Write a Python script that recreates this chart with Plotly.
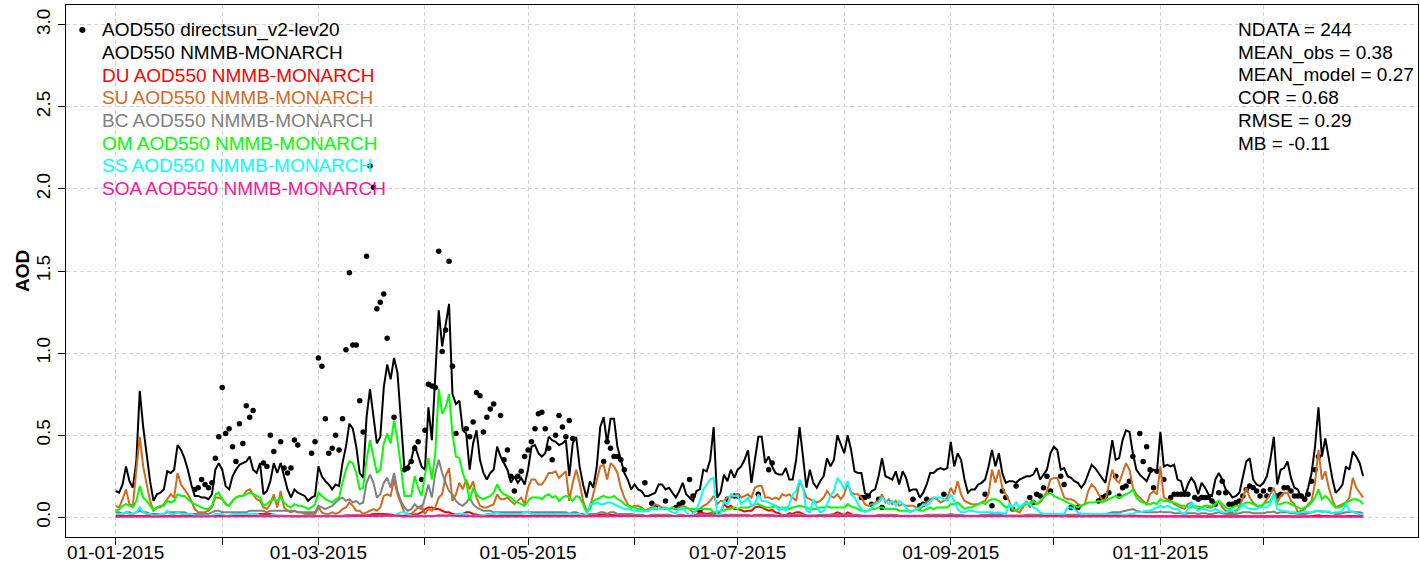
import pandas as pd
import plotly.graph_objects as go

# Daily NMMB-MONARCH AOD at 550 nm from 2015-01-01: total and per-species
total = [
    0.16, 0.15, 0.20, 0.31, 0.22, 0.18, 0.34, 0.77, 0.55, 0.38,
    0.22, 0.10, 0.14, 0.15, 0.17, 0.28, 0.27, 0.29, 0.44, 0.41,
    0.36, 0.29, 0.20, 0.13, 0.13, 0.12, 0.12, 0.11, 0.14, 0.29,
    0.33, 0.29, 0.19, 0.17, 0.25, 0.29, 0.32, 0.33, 0.34, 0.37,
    0.29, 0.27, 0.33, 0.14, 0.16, 0.22, 0.33, 0.27, 0.33, 0.25,
    0.17, 0.12, 0.17, 0.15, 0.14, 0.13, 0.10, 0.12, 0.13, 0.31,
    0.25, 0.22, 0.20, 0.17, 0.20, 0.19, 0.33, 0.43, 0.57, 0.54,
    0.43, 0.27, 0.24, 0.61, 0.78, 0.63, 0.45, 0.49, 0.79, 0.93,
    0.84, 0.97, 0.88, 0.59, 0.30, 0.31, 0.35, 0.44, 0.37, 0.31,
    0.29, 0.67, 0.47, 0.84, 1.26, 1.04, 1.16, 1.30, 0.75, 0.69,
    0.71, 0.53, 0.51, 0.29, 0.45, 0.53, 0.35, 0.27, 0.23, 0.27,
    0.29, 0.43, 0.37, 0.33, 0.29, 0.21, 0.25, 0.21, 0.24, 0.20,
    0.29, 0.43, 0.44, 0.39, 0.37, 0.39, 0.49, 0.47, 0.46, 0.44,
    0.45, 0.47, 0.25, 0.45, 0.49, 0.31, 0.20, 0.12, 0.22, 0.18,
    0.31, 0.55, 0.61, 0.45, 0.60, 0.60, 0.43, 0.35, 0.27, 0.23,
    0.17, 0.20, 0.17, 0.16, 0.13, 0.13, 0.14, 0.15, 0.20, 0.20,
    0.17, 0.18, 0.15, 0.12, 0.16, 0.21, 0.14, 0.12, 0.10, 0.16,
    0.17, 0.29, 0.28, 0.35, 0.55, 0.12, 0.15, 0.26, 0.22, 0.29,
    0.24, 0.29, 0.31, 0.35, 0.41, 0.21, 0.35, 0.49, 0.49, 0.33,
    0.37, 0.31, 0.27, 0.26, 0.26, 0.30, 0.23, 0.23, 0.35, 0.55,
    0.37, 0.18, 0.29, 0.21, 0.18, 0.22, 0.25, 0.36, 0.31, 0.35,
    0.50, 0.44, 0.39, 0.50, 0.41, 0.28, 0.27, 0.27, 0.15, 0.13,
    0.16, 0.17, 0.25, 0.36, 0.25, 0.24, 0.23, 0.28, 0.20, 0.28,
    0.24, 0.16, 0.17, 0.17, 0.12, 0.15, 0.20, 0.27, 0.27, 0.29,
    0.30, 0.29, 0.30, 0.46, 0.31, 0.39, 0.35, 0.23, 0.15, 0.17,
    0.17, 0.20, 0.21, 0.23, 0.31, 0.41, 0.31, 0.39, 0.27, 0.21,
    0.22, 0.22, 0.21, 0.23, 0.24, 0.25, 0.25, 0.26, 0.30, 0.23,
    0.26, 0.29, 0.39, 0.43, 0.41, 0.29, 0.30, 0.25, 0.24, 0.22,
    0.21, 0.18, 0.21, 0.27, 0.32, 0.30, 0.27, 0.24, 0.21, 0.33,
    0.47, 0.35, 0.36, 0.47, 0.53, 0.52, 0.39, 0.29, 0.26, 0.24,
    0.22, 0.27, 0.29, 0.28, 0.52, 0.31, 0.32, 0.31, 0.32, 0.23,
    0.22, 0.14, 0.20, 0.24, 0.21, 0.14, 0.21, 0.18, 0.14, 0.13,
    0.23, 0.27, 0.23, 0.17, 0.15, 0.12, 0.13, 0.15, 0.25, 0.34,
    0.36, 0.23, 0.20, 0.19, 0.21, 0.25, 0.35, 0.49, 0.20, 0.29,
    0.30, 0.34, 0.24, 0.18, 0.17, 0.12, 0.11, 0.18, 0.27, 0.43,
    0.67, 0.37, 0.48, 0.35, 0.24, 0.15, 0.17, 0.20, 0.31, 0.29,
    0.40, 0.37, 0.33, 0.25,
]

du = [
    0.008, 0.008, 0.010, 0.010, 0.008, 0.008, 0.010, 0.012, 0.010, 0.008,
    0.008, 0.006, 0.006, 0.008, 0.008, 0.010, 0.010, 0.008, 0.010, 0.010,
    0.008, 0.008, 0.006, 0.006, 0.006, 0.006, 0.006, 0.006, 0.008, 0.010,
    0.010, 0.010, 0.008, 0.008, 0.008, 0.010, 0.010, 0.010, 0.012, 0.012,
    0.012, 0.015, 0.020, 0.020, 0.022, 0.020, 0.015, 0.010, 0.010, 0.008,
    0.008, 0.006, 0.006, 0.006, 0.006, 0.006, 0.006, 0.006, 0.006, 0.008,
    0.008, 0.008, 0.008, 0.008, 0.010, 0.010, 0.010, 0.012, 0.012, 0.010,
    0.010, 0.010, 0.010, 0.012, 0.015, 0.020, 0.020, 0.022, 0.020, 0.018,
    0.015, 0.012, 0.010, 0.010, 0.010, 0.012, 0.012, 0.015, 0.020, 0.030,
    0.050, 0.060, 0.060, 0.050, 0.050, 0.040, 0.030, 0.030, 0.020, 0.020,
    0.020, 0.020, 0.030, 0.030, 0.020, 0.015, 0.012, 0.010, 0.010, 0.010,
    0.010, 0.010, 0.010, 0.008, 0.008, 0.008, 0.008, 0.008, 0.008, 0.010,
    0.010, 0.010, 0.010, 0.012, 0.012, 0.012, 0.010, 0.010, 0.010, 0.010,
    0.010, 0.012, 0.012, 0.010, 0.010, 0.008, 0.008, 0.006, 0.008, 0.010,
    0.012, 0.015, 0.020, 0.020, 0.015, 0.012, 0.010, 0.010, 0.008, 0.008,
    0.008, 0.008, 0.008, 0.008, 0.006, 0.006, 0.008, 0.008, 0.008, 0.008,
    0.008, 0.008, 0.010, 0.010, 0.010, 0.010, 0.008, 0.008, 0.010, 0.015,
    0.030, 0.025, 0.020, 0.025, 0.025, 0.020, 0.030, 0.080, 0.060, 0.070,
    0.050, 0.050, 0.040, 0.035, 0.040, 0.040, 0.060, 0.065, 0.060, 0.050,
    0.040, 0.045, 0.030, 0.025, 0.010, 0.010, 0.025, 0.020, 0.030, 0.030,
    0.020, 0.010, 0.010, 0.010, 0.010, 0.010, 0.010, 0.012, 0.015, 0.020,
    0.030, 0.020, 0.015, 0.030, 0.020, 0.010, 0.010, 0.008, 0.008, 0.008,
    0.008, 0.008, 0.010, 0.010, 0.008, 0.008, 0.008, 0.008, 0.008, 0.008,
    0.008, 0.006, 0.006, 0.006, 0.006, 0.008, 0.008, 0.010, 0.010, 0.010,
    0.010, 0.010, 0.012, 0.015, 0.012, 0.010, 0.008, 0.008, 0.008, 0.008,
    0.008, 0.006, 0.006, 0.008, 0.008, 0.010, 0.010, 0.010, 0.008, 0.006,
    0.006, 0.006, 0.006, 0.006, 0.008, 0.008, 0.008, 0.008, 0.008, 0.008,
    0.010, 0.010, 0.012, 0.012, 0.010, 0.008, 0.008, 0.008, 0.006, 0.006,
    0.006, 0.006, 0.006, 0.008, 0.008, 0.008, 0.006, 0.006, 0.006, 0.008,
    0.010, 0.010, 0.010, 0.010, 0.012, 0.012, 0.010, 0.008, 0.008, 0.006,
    0.006, 0.006, 0.008, 0.008, 0.010, 0.008, 0.008, 0.006, 0.006, 0.006,
    0.006, 0.006, 0.006, 0.008, 0.008, 0.006, 0.006, 0.006, 0.006, 0.006,
    0.006, 0.008, 0.008, 0.006, 0.006, 0.006, 0.006, 0.006, 0.008, 0.008,
    0.008, 0.006, 0.006, 0.006, 0.006, 0.008, 0.008, 0.010, 0.006, 0.006,
    0.006, 0.008, 0.006, 0.006, 0.005, 0.005, 0.005, 0.006, 0.008, 0.010,
    0.012, 0.008, 0.010, 0.008, 0.006, 0.005, 0.005, 0.006, 0.006, 0.008,
    0.008, 0.008, 0.006, 0.006,
]

su = [
    0.07, 0.06, 0.11, 0.17, 0.08, 0.07, 0.29, 0.49, 0.31, 0.21,
    0.10, 0.04, 0.06, 0.06, 0.08, 0.11, 0.14, 0.12, 0.27, 0.20,
    0.17, 0.14, 0.10, 0.05, 0.03, 0.03, 0.03, 0.04, 0.06, 0.12,
    0.12, 0.11, 0.08, 0.07, 0.10, 0.12, 0.13, 0.13, 0.16, 0.17,
    0.14, 0.11, 0.10, 0.06, 0.05, 0.08, 0.14, 0.06, 0.16, 0.06,
    0.04, 0.03, 0.04, 0.03, 0.03, 0.02, 0.02, 0.02, 0.02, 0.06,
    0.03, 0.02, 0.02, 0.03, 0.02, 0.03, 0.05, 0.06, 0.09, 0.07,
    0.04, 0.04, 0.02, 0.03, 0.04, 0.05, 0.04, 0.06, 0.13, 0.14,
    0.13, 0.23, 0.14, 0.08, 0.03, 0.02, 0.02, 0.04, 0.06, 0.07,
    0.02, 0.05, 0.04, 0.06, 0.12, 0.14, 0.25, 0.30, 0.10, 0.14,
    0.21, 0.17, 0.23, 0.17, 0.22, 0.12, 0.07, 0.06, 0.06, 0.07,
    0.08, 0.14, 0.11, 0.11, 0.12, 0.10, 0.08, 0.10, 0.12, 0.08,
    0.18, 0.23, 0.23, 0.20, 0.20, 0.23, 0.27, 0.27, 0.28, 0.24,
    0.26, 0.28, 0.10, 0.21, 0.29, 0.21, 0.10, 0.04, 0.06, 0.14,
    0.23, 0.31, 0.32, 0.23, 0.33, 0.31, 0.27, 0.18, 0.12, 0.08,
    0.06, 0.07, 0.07, 0.06, 0.04, 0.05, 0.06, 0.08, 0.07, 0.06,
    0.06, 0.05, 0.06, 0.05, 0.06, 0.07, 0.06, 0.05, 0.03, 0.04,
    0.05, 0.07, 0.08, 0.10, 0.13, 0.08, 0.10, 0.10, 0.12, 0.12,
    0.13, 0.14, 0.12, 0.13, 0.14, 0.12, 0.18, 0.19, 0.19, 0.12,
    0.12, 0.11, 0.12, 0.11, 0.14, 0.13, 0.14, 0.12, 0.10, 0.22,
    0.18, 0.12, 0.11, 0.10, 0.09, 0.10, 0.12, 0.16, 0.13, 0.12,
    0.14, 0.11, 0.14, 0.21, 0.15, 0.14, 0.14, 0.12, 0.08, 0.07,
    0.08, 0.09, 0.10, 0.14, 0.09, 0.11, 0.08, 0.10, 0.07, 0.08,
    0.07, 0.07, 0.07, 0.06, 0.05, 0.07, 0.09, 0.11, 0.12, 0.11,
    0.09, 0.10, 0.12, 0.18, 0.14, 0.22, 0.14, 0.10, 0.09, 0.08,
    0.08, 0.08, 0.09, 0.10, 0.14, 0.29, 0.21, 0.29, 0.18, 0.14,
    0.10, 0.04, 0.04, 0.03, 0.06, 0.10, 0.06, 0.10, 0.08, 0.09,
    0.12, 0.16, 0.23, 0.24, 0.24, 0.18, 0.12, 0.11, 0.11, 0.10,
    0.08, 0.07, 0.08, 0.16, 0.20, 0.18, 0.14, 0.11, 0.10, 0.20,
    0.29, 0.23, 0.21, 0.27, 0.33, 0.29, 0.18, 0.14, 0.12, 0.10,
    0.08, 0.14, 0.16, 0.14, 0.31, 0.12, 0.11, 0.10, 0.08, 0.07,
    0.06, 0.05, 0.08, 0.09, 0.06, 0.05, 0.06, 0.07, 0.06, 0.06,
    0.08, 0.10, 0.06, 0.04, 0.03, 0.03, 0.04, 0.06, 0.12, 0.18,
    0.12, 0.09, 0.07, 0.06, 0.08, 0.11, 0.14, 0.18, 0.09, 0.13,
    0.15, 0.15, 0.10, 0.08, 0.03, 0.04, 0.05, 0.08, 0.10, 0.21,
    0.41, 0.23, 0.28, 0.18, 0.11, 0.06, 0.07, 0.08, 0.09, 0.12,
    0.24, 0.18, 0.15, 0.12,
]

bc = [
    0.03, 0.03, 0.02, 0.03, 0.03, 0.02, 0.03, 0.04, 0.03, 0.03,
    0.02, 0.02, 0.02, 0.02, 0.02, 0.03, 0.03, 0.03, 0.03, 0.03,
    0.03, 0.02, 0.02, 0.02, 0.02, 0.02, 0.02, 0.02, 0.03, 0.04,
    0.04, 0.03, 0.03, 0.03, 0.03, 0.03, 0.03, 0.03, 0.03, 0.04,
    0.04, 0.04, 0.04, 0.04, 0.03, 0.04, 0.04, 0.04, 0.04, 0.04,
    0.04, 0.04, 0.04, 0.03, 0.03, 0.03, 0.03, 0.03, 0.03, 0.07,
    0.06, 0.05, 0.06, 0.07, 0.09, 0.11, 0.12, 0.10, 0.11, 0.09,
    0.10, 0.08, 0.09, 0.21, 0.26, 0.21, 0.12, 0.14, 0.21, 0.24,
    0.18, 0.27, 0.16, 0.10, 0.06, 0.04, 0.05, 0.08, 0.06, 0.05,
    0.12, 0.20, 0.12, 0.27, 0.35, 0.27, 0.21, 0.16, 0.14, 0.10,
    0.08, 0.07, 0.09, 0.12, 0.08, 0.06, 0.05, 0.04, 0.04, 0.04,
    0.03, 0.03, 0.03, 0.03, 0.03, 0.03, 0.03, 0.03, 0.03, 0.03,
    0.03, 0.03, 0.03, 0.03, 0.03, 0.03, 0.03, 0.03, 0.03, 0.03,
    0.03, 0.03, 0.02, 0.03, 0.03, 0.02, 0.02, 0.01, 0.02, 0.02,
    0.02, 0.03, 0.03, 0.02, 0.03, 0.03, 0.02, 0.02, 0.02, 0.02,
    0.02, 0.015, 0.015, 0.015, 0.01, 0.01, 0.015, 0.015, 0.015, 0.015,
    0.015, 0.015, 0.01, 0.01, 0.015, 0.015, 0.01, 0.01, 0.01, 0.015,
    0.015, 0.015, 0.015, 0.015, 0.02, 0.01, 0.01, 0.015, 0.015, 0.015,
    0.015, 0.015, 0.015, 0.015, 0.015, 0.01, 0.015, 0.015, 0.015, 0.015,
    0.015, 0.015, 0.01, 0.01, 0.015, 0.015, 0.015, 0.015, 0.015, 0.02,
    0.015, 0.01, 0.01, 0.01, 0.01, 0.015, 0.015, 0.015, 0.015, 0.015,
    0.015, 0.015, 0.015, 0.015, 0.015, 0.015, 0.015, 0.01, 0.01, 0.01,
    0.01, 0.01, 0.015, 0.015, 0.015, 0.015, 0.015, 0.015, 0.01, 0.01,
    0.01, 0.01, 0.01, 0.01, 0.01, 0.01, 0.015, 0.015, 0.015, 0.015,
    0.015, 0.015, 0.015, 0.02, 0.015, 0.015, 0.015, 0.01, 0.01, 0.01,
    0.01, 0.01, 0.015, 0.015, 0.015, 0.02, 0.015, 0.02, 0.015, 0.01,
    0.01, 0.01, 0.01, 0.01, 0.01, 0.015, 0.015, 0.015, 0.015, 0.015,
    0.02, 0.02, 0.02, 0.02, 0.02, 0.015, 0.015, 0.015, 0.015, 0.015,
    0.015, 0.015, 0.015, 0.02, 0.02, 0.02, 0.02, 0.02, 0.02, 0.025,
    0.03, 0.03, 0.03, 0.035, 0.04, 0.045, 0.05, 0.04, 0.035, 0.03,
    0.03, 0.03, 0.03, 0.03, 0.035, 0.03, 0.03, 0.03, 0.025, 0.025,
    0.025, 0.02, 0.025, 0.025, 0.025, 0.02, 0.025, 0.025, 0.02, 0.02,
    0.025, 0.03, 0.025, 0.02, 0.02, 0.02, 0.02, 0.025, 0.03, 0.03,
    0.03, 0.025, 0.025, 0.025, 0.025, 0.03, 0.03, 0.035, 0.025, 0.03,
    0.03, 0.03, 0.025, 0.025, 0.02, 0.02, 0.02, 0.025, 0.03, 0.035,
    0.04, 0.035, 0.035, 0.03, 0.025, 0.02, 0.02, 0.025, 0.03, 0.03,
    0.035, 0.03, 0.03, 0.025,
]

om = [
    0.04, 0.05, 0.07, 0.08, 0.07, 0.06, 0.10, 0.19, 0.12, 0.10,
    0.07, 0.04, 0.06, 0.07, 0.07, 0.10, 0.09, 0.10, 0.14, 0.13,
    0.13, 0.11, 0.09, 0.08, 0.07, 0.06, 0.05, 0.05, 0.07, 0.14,
    0.15, 0.11, 0.08, 0.07, 0.10, 0.12, 0.13, 0.13, 0.14, 0.15,
    0.14, 0.13, 0.12, 0.07, 0.08, 0.10, 0.11, 0.10, 0.12, 0.09,
    0.07, 0.06, 0.08, 0.07, 0.07, 0.06, 0.05, 0.06, 0.08, 0.15,
    0.13, 0.11, 0.10, 0.09, 0.11, 0.12, 0.21, 0.29, 0.34, 0.33,
    0.27, 0.17, 0.18, 0.35, 0.47, 0.37, 0.27, 0.29, 0.45, 0.51,
    0.45, 0.59, 0.47, 0.31, 0.13, 0.13, 0.13, 0.25, 0.18, 0.13,
    0.26, 0.36, 0.23, 0.39, 0.78, 0.63, 0.67, 0.75, 0.51, 0.37,
    0.36, 0.27, 0.21, 0.10, 0.18, 0.14, 0.12, 0.11, 0.12, 0.13,
    0.15, 0.20, 0.16, 0.14, 0.13, 0.12, 0.10, 0.09, 0.08, 0.07,
    0.10, 0.12, 0.12, 0.12, 0.11, 0.13, 0.14, 0.12, 0.13, 0.10,
    0.12, 0.13, 0.12, 0.10, 0.13, 0.12, 0.08, 0.03, 0.05, 0.10,
    0.11, 0.12, 0.13, 0.12, 0.12, 0.13, 0.11, 0.10, 0.08, 0.07,
    0.06, 0.06, 0.05, 0.05, 0.04, 0.04, 0.05, 0.05, 0.05, 0.05,
    0.05, 0.05, 0.06, 0.05, 0.05, 0.05, 0.06, 0.05, 0.05, 0.05,
    0.05, 0.05, 0.05, 0.05, 0.03, 0.03, 0.04, 0.04, 0.05, 0.05,
    0.06, 0.05, 0.06, 0.06, 0.06, 0.07, 0.08, 0.08, 0.07, 0.06,
    0.06, 0.06, 0.07, 0.06, 0.05, 0.06, 0.05, 0.06, 0.065, 0.07,
    0.065, 0.06, 0.05, 0.05, 0.05, 0.06, 0.06, 0.065, 0.06, 0.06,
    0.06, 0.06, 0.06, 0.08, 0.065, 0.06, 0.05, 0.04, 0.04, 0.04,
    0.05, 0.05, 0.06, 0.06, 0.05, 0.05, 0.05, 0.05, 0.04, 0.04,
    0.04, 0.04, 0.04, 0.05, 0.04, 0.04, 0.05, 0.06, 0.05, 0.06,
    0.06, 0.06, 0.06, 0.08, 0.08, 0.09, 0.07, 0.05, 0.06, 0.06,
    0.07, 0.08, 0.09, 0.08, 0.10, 0.11, 0.11, 0.10, 0.08, 0.06,
    0.07, 0.05, 0.04, 0.06, 0.07, 0.08, 0.09, 0.10, 0.08, 0.10,
    0.12, 0.14, 0.15, 0.13, 0.12, 0.11, 0.10, 0.09, 0.08, 0.07,
    0.06, 0.07, 0.08, 0.09, 0.09, 0.09, 0.10, 0.09, 0.10, 0.11,
    0.12, 0.13, 0.12, 0.13, 0.14, 0.15, 0.17, 0.12, 0.10, 0.09,
    0.08, 0.08, 0.09, 0.08, 0.11, 0.10, 0.10, 0.09, 0.09, 0.08,
    0.07, 0.07, 0.06, 0.06, 0.07, 0.065, 0.06, 0.07, 0.07, 0.065,
    0.08, 0.10, 0.08, 0.06, 0.05, 0.06, 0.07, 0.07, 0.08, 0.09,
    0.09, 0.08, 0.07, 0.07, 0.08, 0.09, 0.10, 0.14, 0.08, 0.08,
    0.09, 0.09, 0.08, 0.07, 0.06, 0.05, 0.06, 0.07, 0.09, 0.12,
    0.17, 0.11, 0.13, 0.11, 0.08, 0.06, 0.06, 0.07, 0.09, 0.10,
    0.11, 0.11, 0.10, 0.08,
]

ss = [
    0.02, 0.02, 0.02, 0.03, 0.02, 0.02, 0.03, 0.06, 0.03, 0.02,
    0.02, 0.01, 0.01, 0.02, 0.02, 0.04, 0.02, 0.02, 0.03, 0.02,
    0.02, 0.02, 0.02, 0.01, 0.01, 0.01, 0.01, 0.01, 0.01, 0.02,
    0.02, 0.02, 0.01, 0.01, 0.02, 0.02, 0.02, 0.02, 0.02, 0.02,
    0.02, 0.02, 0.01, 0.01, 0.01, 0.01, 0.02, 0.01, 0.01, 0.01,
    0.01, 0.01, 0.01, 0.01, 0.01, 0.01, 0.01, 0.01, 0.01, 0.01,
    0.01, 0.01, 0.01, 0.01, 0.01, 0.01, 0.01, 0.01, 0.01, 0.01,
    0.01, 0.01, 0.01, 0.01, 0.01, 0.01, 0.01, 0.01, 0.01, 0.01,
    0.01, 0.01, 0.02, 0.03, 0.03, 0.02, 0.01, 0.01, 0.01, 0.01,
    0.01, 0.01, 0.01, 0.01, 0.01, 0.01, 0.01, 0.01, 0.01, 0.02,
    0.02, 0.02, 0.02, 0.01, 0.01, 0.01, 0.01, 0.01, 0.02, 0.02,
    0.02, 0.03, 0.02, 0.02, 0.02, 0.02, 0.02, 0.02, 0.02, 0.03,
    0.03, 0.02, 0.02, 0.02, 0.02, 0.02, 0.02, 0.02, 0.02, 0.02,
    0.02, 0.02, 0.02, 0.02, 0.02, 0.02, 0.01, 0.01, 0.08, 0.08,
    0.09, 0.08, 0.08, 0.09, 0.09, 0.08, 0.07, 0.06, 0.05, 0.05,
    0.045, 0.04, 0.04, 0.035, 0.035, 0.04, 0.05, 0.06, 0.05, 0.05,
    0.06, 0.04, 0.03, 0.025, 0.05, 0.06, 0.03, 0.01, 0.02, 0.05,
    0.10, 0.17, 0.20, 0.23, 0.24, 0.01, 0.02, 0.10, 0.08, 0.14,
    0.13, 0.13, 0.08, 0.10, 0.12, 0.07, 0.08, 0.14, 0.10, 0.10,
    0.09, 0.08, 0.07, 0.04, 0.06, 0.04, 0.08, 0.14, 0.16, 0.23,
    0.18, 0.04, 0.03, 0.11, 0.06, 0.03, 0.04, 0.08, 0.13, 0.16,
    0.24, 0.21, 0.17, 0.22, 0.14, 0.12, 0.08, 0.05, 0.03, 0.04,
    0.06, 0.08, 0.09, 0.12, 0.10, 0.08, 0.10, 0.07, 0.10, 0.08,
    0.06, 0.03, 0.04, 0.05, 0.06, 0.08, 0.07, 0.09, 0.12, 0.12,
    0.12, 0.11, 0.10, 0.14, 0.10, 0.05, 0.03, 0.03, 0.04, 0.04,
    0.035, 0.03, 0.03, 0.03, 0.03, 0.03, 0.025, 0.03, 0.025, 0.02,
    0.08, 0.06, 0.09, 0.06, 0.08, 0.09, 0.08, 0.06, 0.05, 0.03,
    0.02, 0.02, 0.02, 0.02, 0.02, 0.02, 0.02, 0.06, 0.06, 0.05,
    0.03, 0.02, 0.02, 0.02, 0.02, 0.02, 0.02, 0.02, 0.02, 0.02,
    0.02, 0.02, 0.02, 0.015, 0.015, 0.02, 0.02, 0.03, 0.03, 0.035,
    0.04, 0.04, 0.05, 0.06, 0.07, 0.06, 0.07, 0.06, 0.05, 0.05,
    0.03, 0.02, 0.05, 0.09, 0.06, 0.04, 0.05, 0.05, 0.04, 0.04,
    0.05, 0.04, 0.03, 0.03, 0.04, 0.04, 0.03, 0.05, 0.08, 0.06,
    0.05, 0.05, 0.05, 0.06, 0.06, 0.06, 0.08, 0.15, 0.05, 0.04,
    0.04, 0.035, 0.03, 0.03, 0.025, 0.03, 0.035, 0.03, 0.03, 0.04,
    0.04, 0.03, 0.035, 0.035, 0.025, 0.03, 0.03, 0.04, 0.08, 0.04,
    0.03, 0.025, 0.02, 0.02,
]

soa = [
    0.004, 0.004, 0.005, 0.005, 0.004, 0.004, 0.005, 0.006, 0.005, 0.004,
    0.004, 0.003, 0.003, 0.004, 0.004, 0.005, 0.005, 0.005, 0.006, 0.005,
    0.005, 0.004, 0.004, 0.003, 0.003, 0.003, 0.003, 0.003, 0.004, 0.005,
    0.005, 0.005, 0.004, 0.004, 0.004, 0.005, 0.005, 0.005, 0.005, 0.006,
    0.005, 0.005, 0.005, 0.004, 0.004, 0.004, 0.005, 0.004, 0.005, 0.004,
    0.004, 0.003, 0.004, 0.004, 0.003, 0.003, 0.003, 0.003, 0.003, 0.005,
    0.005, 0.004, 0.004, 0.004, 0.004, 0.005, 0.006, 0.007, 0.008, 0.008,
    0.007, 0.005, 0.005, 0.008, 0.010, 0.008, 0.007, 0.007, 0.009, 0.010,
    0.009, 0.010, 0.009, 0.007, 0.005, 0.005, 0.005, 0.006, 0.005, 0.005,
    0.006, 0.007, 0.006, 0.008, 0.012, 0.010, 0.010, 0.012, 0.009, 0.008,
    0.008, 0.007, 0.006, 0.005, 0.005, 0.005, 0.005, 0.005, 0.005, 0.005,
    0.006, 0.007, 0.006, 0.006, 0.006, 0.005, 0.005, 0.005, 0.005, 0.005,
    0.006, 0.007, 0.007, 0.007, 0.007, 0.008, 0.008, 0.008, 0.008, 0.007,
    0.008, 0.008, 0.007, 0.007, 0.008, 0.007, 0.006, 0.005, 0.006, 0.007,
    0.008, 0.009, 0.009, 0.009, 0.009, 0.009, 0.008, 0.008, 0.007, 0.007,
    0.007, 0.007, 0.006, 0.006, 0.006, 0.006, 0.007, 0.007, 0.007, 0.007,
    0.007, 0.007, 0.007, 0.007, 0.007, 0.007, 0.007, 0.006, 0.006, 0.007,
    0.007, 0.008, 0.008, 0.008, 0.008, 0.006, 0.006, 0.007, 0.007, 0.008,
    0.008, 0.008, 0.008, 0.008, 0.009, 0.008, 0.009, 0.010, 0.009, 0.008,
    0.008, 0.008, 0.008, 0.008, 0.008, 0.008, 0.007, 0.008, 0.008, 0.009,
    0.008, 0.007, 0.007, 0.007, 0.007, 0.007, 0.008, 0.008, 0.008, 0.008,
    0.009, 0.008, 0.008, 0.009, 0.008, 0.008, 0.007, 0.007, 0.006, 0.006,
    0.006, 0.007, 0.007, 0.007, 0.007, 0.007, 0.007, 0.007, 0.006, 0.006,
    0.006, 0.006, 0.006, 0.006, 0.006, 0.006, 0.006, 0.007, 0.007, 0.007,
    0.007, 0.007, 0.007, 0.008, 0.007, 0.007, 0.007, 0.006, 0.006, 0.006,
    0.006, 0.006, 0.006, 0.006, 0.007, 0.007, 0.007, 0.007, 0.006, 0.006,
    0.006, 0.005, 0.005, 0.005, 0.006, 0.006, 0.006, 0.006, 0.006, 0.006,
    0.007, 0.007, 0.007, 0.007, 0.007, 0.006, 0.006, 0.006, 0.006, 0.005,
    0.005, 0.005, 0.005, 0.006, 0.006, 0.006, 0.006, 0.006, 0.006, 0.006,
    0.007, 0.007, 0.007, 0.007, 0.007, 0.007, 0.007, 0.006, 0.006, 0.005,
    0.005, 0.005, 0.005, 0.005, 0.006, 0.005, 0.005, 0.005, 0.005, 0.005,
    0.005, 0.004, 0.004, 0.005, 0.005, 0.004, 0.004, 0.004, 0.004, 0.004,
    0.004, 0.005, 0.005, 0.004, 0.004, 0.004, 0.004, 0.004, 0.005, 0.005,
    0.005, 0.004, 0.004, 0.004, 0.004, 0.005, 0.005, 0.005, 0.004, 0.004,
    0.004, 0.005, 0.004, 0.004, 0.004, 0.003, 0.003, 0.004, 0.004, 0.005,
    0.006, 0.005, 0.005, 0.005, 0.004, 0.004, 0.004, 0.004, 0.004, 0.005,
    0.005, 0.005, 0.004, 0.004,
]

# AERONET direct-sun v2 level 2.0 daily AOD550: day of year and value
obs_doy = [
    24, 25, 26, 27, 28, 29, 30, 31, 32, 33, 34, 35, 36, 37, 38, 39, 40, 41,
    44, 45, 46, 47, 49, 50, 51, 52, 53, 54, 58, 59, 60, 61, 62, 63, 64, 65,
    66, 67, 68, 69, 70, 71, 72, 73, 74, 75, 76, 77, 78, 79, 80, 82, 85, 86,
    87, 88, 89, 90, 91, 92, 93, 94, 95, 96, 97, 98, 99, 100, 103, 104, 105,
    106, 107, 108, 109, 110, 111, 113, 114, 115, 116, 117, 118, 119, 120,
    121, 122, 123, 124, 125, 126, 127, 128, 129, 130, 131, 132, 133, 134,
    143, 144, 145, 146, 147, 148, 149, 155, 157, 158, 161, 164, 165, 166,
    168, 169, 171, 179, 181, 182, 188, 191, 192, 218, 219, 220, 221, 223,
    224, 233, 235, 236, 237, 242, 254, 256, 259, 260, 262, 263, 267, 268,
    269, 270, 271, 272, 273, 276, 277, 279, 281, 287, 288, 289, 290, 292,
    293, 294, 295, 296, 297, 299, 300, 301, 302, 303, 304, 306, 308, 309,
    310, 311, 312, 313, 315, 316, 317, 318, 319, 320, 321, 322, 323, 324,
    325, 326, 327, 328, 329, 330, 331, 332, 333, 334, 335, 336, 337, 339,
    340, 341, 342, 343, 344, 345, 346, 347, 348, 349, 350, 351,
]
obs_aod = [
    0.17, 0.18, 0.23, 0.20, 0.18, 0.21, 0.36, 0.49, 0.79, 0.51, 0.54, 0.43, 0.34, 0.57, 0.45, 0.68, 0.61, 0.65,
    0.33, 0.31, 0.50, 0.40, 0.46, 0.30, 0.27, 0.30, 0.47, 0.44, 0.39, 0.46, 0.97, 0.92, 0.60, 0.39, 0.42, 0.50,
    0.41, 0.60, 1.02, 1.49, 1.05, 1.05, 0.71, 0.52, 1.59, 2.14, 2.01, 1.27, 1.31, 1.36, 1.09, 0.61, 0.29, 0.30,
    0.34, 0.42, 0.46, 0.23, 0.53, 0.81, 0.80, 0.79, 1.62, 1.01, 1.14, 1.56, 0.92, 0.51, 0.54, 0.49, 0.58,
    0.76, 0.74, 0.52, 0.61, 0.66, 0.69, 0.62, 0.35, 0.41, 0.25, 0.16, 0.25, 0.28, 0.37,
    0.41, 0.46, 0.54, 0.63, 0.64, 0.54, 0.42, 0.35, 0.50, 0.62, 0.55, 0.49, 0.59, 0.48,
    0.34, 0.46, 0.42, 0.37, 0.37, 0.35, 0.29, 0.21, 0.085, 0.065, 0.10, 0.06, 0.08, 0.09,
    0.23, 0.13, 0.04, 0.11, 0.13, 0.13, 0.14, 0.29, 0.33, 0.12, 0.12, 0.13, 0.08, 0.11,
    0.06, 0.11, 0.07, 0.08, 0.11, 0.14, 0.14, 0.07, 0.16, 0.12, 0.05, 0.19, 0.12, 0.09,
    0.14, 0.13, 0.18, 0.25, 0.16, 0.25, 0.20, 0.06, 0.06, 0.10, 0.12, 0.13, 0.15, 0.25,
    0.13, 0.18, 0.19, 0.22, 0.37, 0.51, 0.34, 0.43, 0.29, 0.18, 0.28, 0.23, 0.12, 0.14,
    0.14, 0.14, 0.14, 0.14, 0.12, 0.11, 0.12, 0.12, 0.12, 0.10, 0.08, 0.15, 0.22, 0.15,
    0.08, 0.08, 0.09, 0.10, 0.13, 0.17, 0.19, 0.18, 0.16, 0.13, 0.16, 0.13, 0.17, 0.13,
    0.14, 0.18, 0.18, 0.16, 0.13, 0.13, 0.13, 0.11, 0.14, 0.22, 0.29, 0.37,
]

stats_lines = [
    "NDATA = 244",
    "MEAN_obs = 0.38",
    "MEAN_model = 0.27",
    "COR = 0.68",
    "RMSE = 0.29",
    "MB = -0.11",
]

series = [
    ("DU AOD550 NMMB-MONARCH", du, "#FF0000"),
    ("SU AOD550 NMMB-MONARCH", su, "#D2691E"),
    ("BC AOD550 NMMB-MONARCH", bc, "#808080"),
    ("OM AOD550 NMMB-MONARCH", om, "#00FF00"),
    ("SS AOD550 NMMB-MONARCH", ss, "#00FFFF"),
    ("SOA AOD550 NMMB-MONARCH", soa, "#FF1493"),
]

for _, vals, _ in series:
    assert len(vals) == len(total)
assert len(obs_doy) == len(obs_aod)

start = pd.Timestamp("2015-01-01")
dates = pd.date_range(start, periods=len(total), freq="D")
obs_dates = [start + pd.Timedelta(days=d - 1) for d in obs_doy]

FONT = "Liberation Sans, Arial, Helvetica, sans-serif"
W, H = 1420, 562
ML, MR, MT, MB = 66, 2, 5, 25
plot_w = W - ML - MR
plot_h = H - MT - MB

fig = go.Figure()

fig.add_trace(go.Scatter(
    x=obs_dates, y=obs_aod, mode="markers",
    marker=dict(color="black", size=5.5),
    name="AOD550 directsun_v2-lev20",
))
fig.add_trace(go.Scatter(
    x=dates, y=total, mode="lines",
    line=dict(color="black", width=2),
    name="AOD550 NMMB-MONARCH",
))
for name, vals, color in series:
    fig.add_trace(go.Scatter(
        x=dates, y=vals, mode="lines",
        line=dict(color=color, width=2),
        name=name,
    ))

month_starts = pd.date_range("2015-01-01", "2015-12-01", freq="MS")
tick_text = [d.strftime("%d-%m-%Y") if d.month % 2 == 1 else "" for d in month_starts]

fig.update_xaxes(
    type="date",
    range=["2014-12-17 12:53", "2016-01-14 23:11"],
    tickmode="array",
    tickvals=list(month_starts),
    ticktext=tick_text,
    ticks="outside", ticklen=7, tickwidth=1, tickcolor="black",
    ticklabelstandoff=-9,
    showgrid=True, gridcolor="#D3D3D3", gridwidth=1, griddash="4px,3px",
    showline=True, linecolor="black", linewidth=1, mirror=True,
    zeroline=False, automargin=False,
    tickfont=dict(family=FONT, size=19, color="black"),
)

y_ticks = [0.0, 0.5, 1.0, 1.5, 2.0, 2.5, 3.0]
fig.update_yaxes(
    range=[-0.12, 3.12],
    tickmode="array",
    tickvals=y_ticks,
    ticktext=[f"{v:.1f}" for v in y_ticks],
    tickangle=-90,
    ticks="outside", ticklen=7, tickwidth=1, tickcolor="black",
    showgrid=True, gridcolor="#D3D3D3", gridwidth=1, griddash="4px,3px",
    showline=True, linecolor="black", linewidth=1, mirror=True,
    zeroline=False, automargin=False,
    tickfont=dict(family=FONT, size=19, color="black"),
)

annotations = []

# y-axis title
annotations.append(dict(
    text="<b>AOD</b>", textangle=-90,
    xref="paper", yref="paper",
    x=(22 - ML) / plot_w, y=(H - MB - 271) / plot_h,
    xanchor="center", yanchor="middle", showarrow=False,
    font=dict(family=FONT, size=19, color="black"),
))

# legend block (top left)
legend_entries = [("AOD550 directsun_v2-lev20", "black"), ("AOD550 NMMB-MONARCH", "black")]
legend_entries += [(name, color) for name, _, color in series]
line_step = 22.6
for i, (label, color) in enumerate(legend_entries):
    ypx = 30 + i * line_step
    annotations.append(dict(
        text=label, xref="paper", yref="paper",
        x=(100 - ML) / plot_w, y=(H - MB - ypx) / plot_h,
        xanchor="left", yanchor="middle", showarrow=False,
        font=dict(family=FONT, size=19, color=color),
    ))
annotations.append(dict(
    text="●", xref="paper", yref="paper",
    x=(82 - ML) / plot_w, y=(H - MB - 29) / plot_h,
    xanchor="center", yanchor="middle", showarrow=False,
    font=dict(family="DejaVu Sans", size=8, color="black"),
))

# statistics block (top right)
for i, line in enumerate(stats_lines):
    ypx = 30 + i * line_step
    annotations.append(dict(
        text=line, xref="paper", yref="paper",
        x=(1236 - ML) / plot_w, y=(H - MB - ypx) / plot_h,
        xanchor="left", yanchor="middle", showarrow=False,
        font=dict(family=FONT, size=19, color="black"),
    ))

fig.update_layout(
    width=W, height=H,
    margin=dict(l=ML, r=MR, t=MT, b=MB, pad=0),
    paper_bgcolor="white", plot_bgcolor="white",
    showlegend=False,
    annotations=annotations,
    font=dict(family=FONT, size=19, color="black"),
)

fig.write_html("out.html", config={"displayModeBar": False})
